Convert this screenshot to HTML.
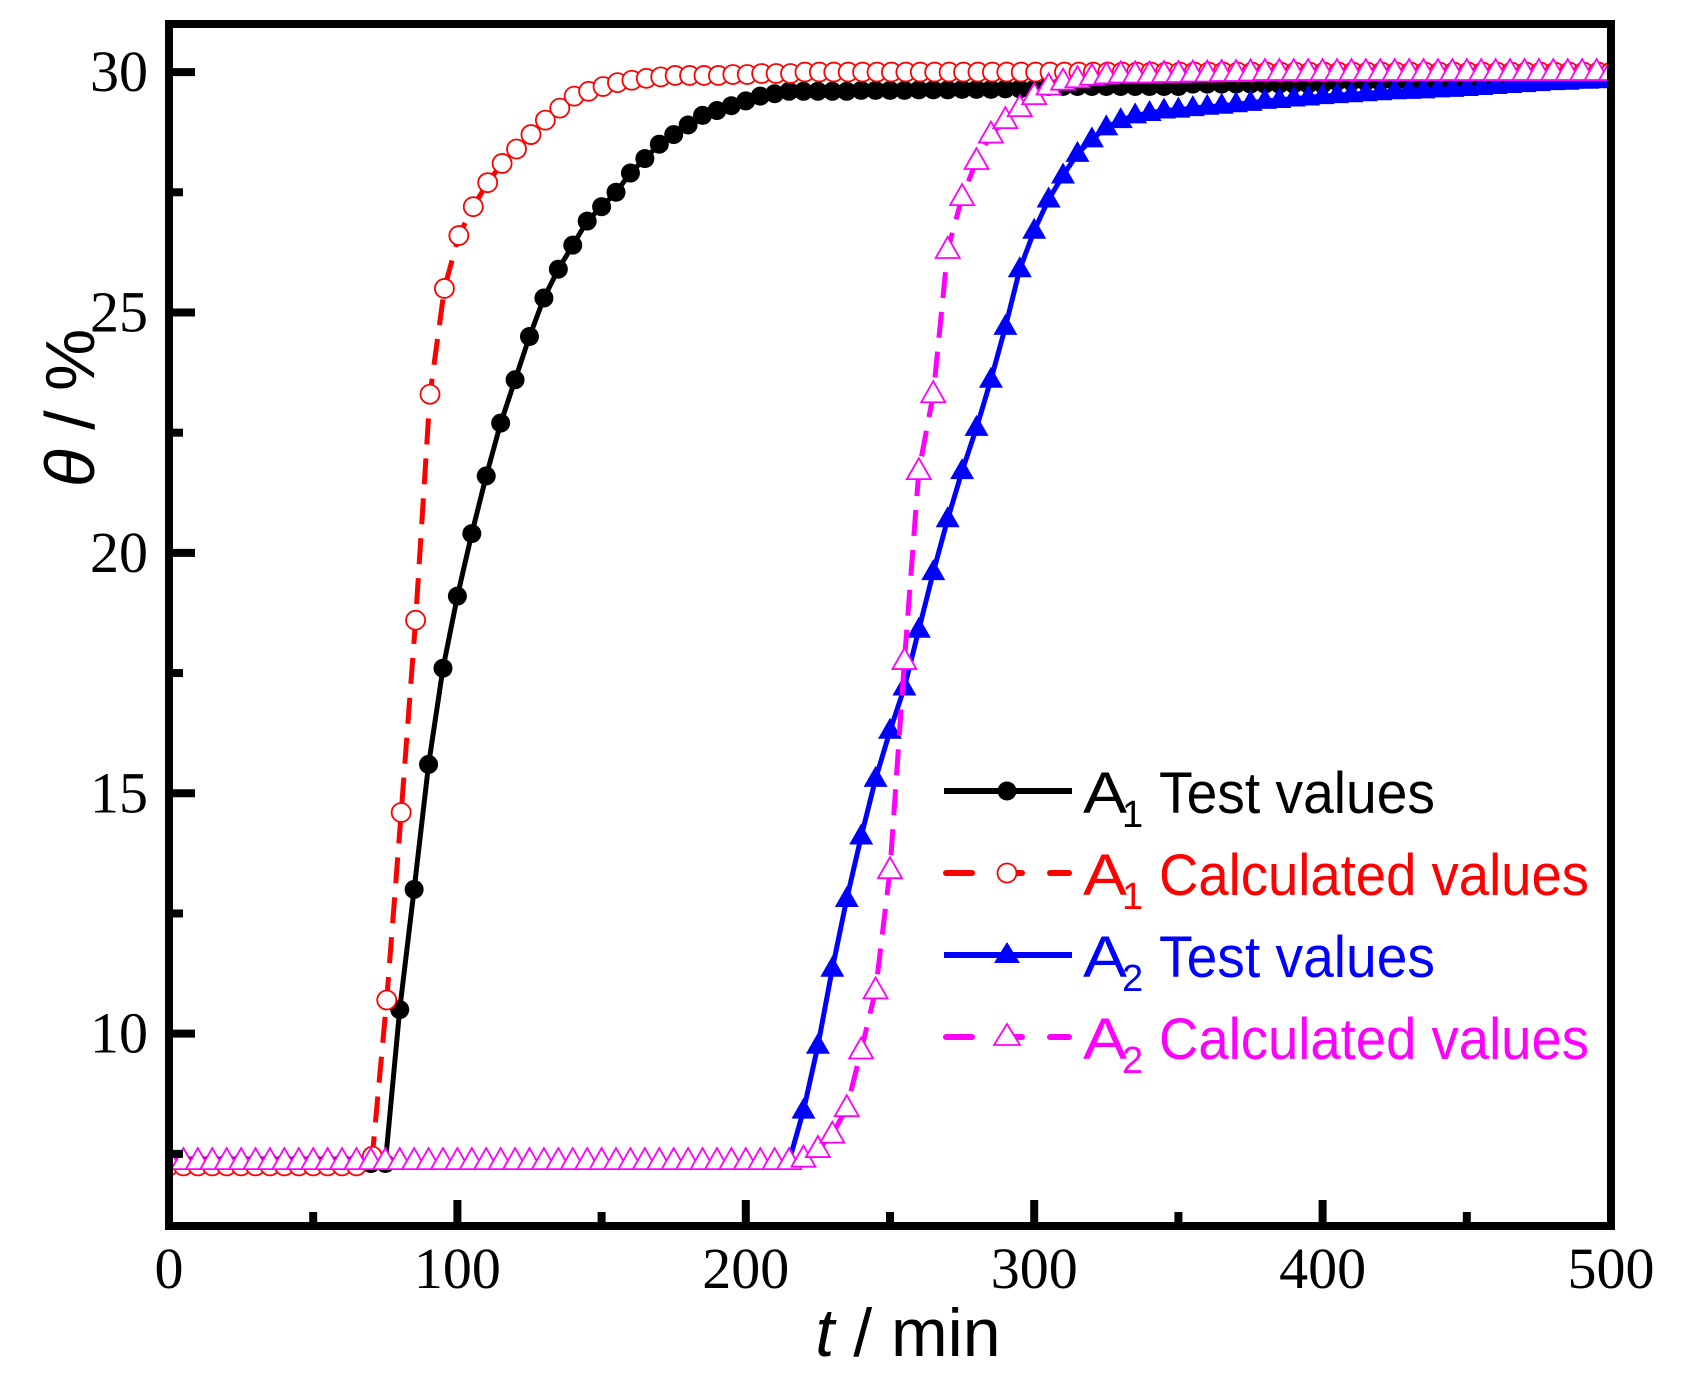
<!DOCTYPE html>
<html><head><meta charset="utf-8"><style>
html,body{margin:0;padding:0;background:#fff;}
svg{display:block;}
</style></head><body>
<svg id="chart" width="1689" height="1377" viewBox="0 0 1689 1377" xmlns="http://www.w3.org/2000/svg"></svg>
<script>
const tA1Test = [0,5,10,15,20,25,30,35,40,45,50,55,60,65,70,75,80,85,90,95,100,105,110,115,120,125,130,135,140,145,150,155,160,165,170,175,180,185,190,195,200,205,210,215,220,225,230,235,240,245,250,255,260,265,270,275,280,285,290,295,300,305,310,315,320,325,330,335,340,345,350,355,360,365,370,375,380,385,390,395,400,405,410,415,420,425,430,435,440,445,450,455,460,465,470,475,480,485,490,495,500];
const vA1Test = [7.3,7.3,7.3,7.3,7.3,7.3,7.3,7.3,7.3,7.3,7.3,7.3,7.3,7.3,7.3,7.3,10.5,13.0,15.6,17.6,19.1,20.4,21.6,22.7,23.6,24.5,25.3,25.9,26.4,26.9,27.2,27.5,27.9,28.2,28.5,28.7,28.9,29.1,29.2,29.3,29.4,29.5,29.55,29.6,29.6,29.6,29.6,29.6,29.62,29.62,29.62,29.62,29.63,29.63,29.63,29.64,29.64,29.64,29.65,29.65,29.65,29.7,29.7,29.7,29.7,29.7,29.7,29.7,29.7,29.7,29.7,29.75,29.75,29.75,29.75,29.75,29.75,29.75,29.75,29.75,29.75,29.8,29.8,29.8,29.8,29.8,29.8,29.8,29.8,29.8,29.8,29.85,29.85,29.85,29.85,29.85,29.85,29.85,29.85,29.85,29.85];
const tA1Calc = [0,5,10,15,20,25,30,35,40,45,50,55,60,65,70.5,75.5,80.5,85.5,90.5,95.5,100.5,105.5,110.5,115.5,120.5,125.5,130.5,135.5,140.5,145.5,150.5,155.5,160.5,165.5,170.5,175.5,180.5,185.5,190.5,195.5,200.5,205.5,210.5,215.5,220.5,225.5,230.5,235.5,240.5,245.5,250.5,255.5,260.5,265.5,270.5,275.5,280.5,285.5,290.5,295.5,300.5,305.5,310.5,315.5,320.5,325.5,330.5,335.5,340.5,345.5,350.5,355.5,360.5,365.5,370.5,375.5,380.5,385.5,390.5,395.5,400.5,405.5,410.5,415.5,420.5,425.5,430.5,435.5,440.5,445.5,450.5,455.5,460.5,465.5,470.5,475.5,480.5,485.5,490.5,495.5,500];
const vA1Calc = [7.25,7.25,7.25,7.25,7.25,7.25,7.25,7.25,7.25,7.25,7.25,7.25,7.25,7.25,7.45,10.7,14.6,18.6,23.3,25.5,26.6,27.2,27.7,28.1,28.4,28.7,29.0,29.25,29.5,29.6,29.7,29.78,29.83,29.87,29.9,29.93,29.93,29.93,29.93,29.95,29.95,29.97,29.97,29.97,30,30,30,30,30,30,30,30,30,30,30,30,30,30,30,30,30,30,30,30,30,30,30,30,30,30,30,30,30,30,30,30,30,30,30,30,30,30,30,30,30,30,30,30,30,30,30,30,30,30,30,30,30,30,30,30,30];
const tA2Test = [0,5,10,15,20,25,30,35,40,45,50,55,60,65,70,75,80,85,90,95,100,105,110,115,120,125,130,135,140,145,150,155,160,165,170,175,180,185,190,195,200,205,210,215,220,225,230,235,240,245,250,255,260,265,270,275,280,285,290,295,300,305,310,315,320,325,330,335,340,345,350,355,360,365,370,375,380,385,390,395,400,405,410,415,420,425,430,435,440,445,450,455,460,465,470,475,480,485,490,495,500];
const vA2Test = [7.35,7.35,7.35,7.35,7.35,7.35,7.35,7.35,7.35,7.35,7.35,7.35,7.35,7.35,7.35,7.35,7.35,7.35,7.35,7.35,7.35,7.35,7.35,7.35,7.35,7.35,7.35,7.35,7.35,7.35,7.35,7.35,7.35,7.35,7.35,7.35,7.35,7.35,7.35,7.35,7.35,7.35,7.35,7.35,8.4,9.75,11.35,12.8,14.1,15.3,16.3,17.2,18.4,19.6,20.7,21.7,22.6,23.6,24.7,25.9,26.7,27.35,27.85,28.3,28.6,28.85,29.0,29.1,29.15,29.2,29.22,29.25,29.28,29.3,29.33,29.36,29.4,29.42,29.45,29.47,29.5,29.52,29.54,29.56,29.58,29.6,29.61,29.62,29.64,29.65,29.67,29.69,29.71,29.73,29.75,29.77,29.79,29.8,29.82,29.83,29.85];
const tA2Calc = [0,5,10,15,20,25,30,35,40,45,50,55,60,65,70,75,80,85,90,95,100,105,110,115,120,125,130,135,140,145,150,155,160,165,170,175,180,185,190,195,200,205,210,215,220,225,230,235,240,245,250,255,260,265,270,275,280,285,290,295,300,305,310,315,320,325,330,335,340,345,350,355,360,365,370,375,380,385,390,395,400,405,410,415,420,425,430,435,440,445,450,455,460,465,470,475,480,485,490,495,500];
const vA2Calc = [7.35,7.35,7.35,7.35,7.35,7.35,7.35,7.35,7.35,7.35,7.35,7.35,7.35,7.35,7.35,7.35,7.35,7.35,7.35,7.35,7.35,7.35,7.35,7.35,7.35,7.35,7.35,7.35,7.35,7.35,7.35,7.35,7.35,7.35,7.35,7.35,7.35,7.35,7.35,7.35,7.35,7.35,7.35,7.35,7.4,7.6,7.9,8.45,9.65,10.9,13.4,17.75,21.7,23.3,26.3,27.4,28.15,28.7,29.0,29.25,29.5,29.7,29.8,29.85,29.9,29.93,29.95,29.95,29.95,29.96,29.96,29.97,29.97,29.98,29.98,29.99,30,30,30,30,30,30,30,30,30,30,30,30,30,30,30,30,30,30,30,30,30,30,30,30,30];
const xTicks = [0,100,200,300,400,500];
const xMinor = [50,150,250,350,450];
const yTicks = [10,15,20,25,30];
const yMinor = [7.5,12.5,17.5,22.5,27.5];

const X0=169, X1=1611, YT=24, YB=1226;
const xMin=0,xMax=500,yMin=6,yMax=31;
const sx = t => X0 + (t-xMin)/(xMax-xMin)*(X1-X0);
const sy = v => YB - (v-yMin)/(yMax-yMin)*(YB-YT);
const NS='http://www.w3.org/2000/svg';
const svg=document.getElementById('chart');
function mk(tag, attrs, parent){
  const e=document.createElementNS(NS,tag);
  for(const k in attrs) e.setAttribute(k,attrs[k]);
  (parent||svg).appendChild(e); return e;
}
const plot=mk('g',{});


const clip=mk('clipPath',{id:'cp'});
mk('rect',{x:X0,y:YT,width:X1-X0,height:YB-YT},clip);

function series(name,ts,vs,color,dash,marker,filled){
  const g=mk('g',{'clip-path':'url(#cp)'},plot);
  
  
  const pts=ts.map((t,i)=>sx(t).toFixed(1)+','+sy(vs[i]).toFixed(1)).join(' ');
  const ln=mk('polyline',{points:pts,fill:'none',stroke:color,'stroke-width':5,'stroke-dasharray':dash||'none','stroke-linejoin':'round'},g);
  
  
  ts.forEach((t,i)=>{
    const x=sx(t), y=sy(vs[i]);
    let m;
    if(marker==='circle') m=mk('circle',{cx:x,cy:y,r:9.5,fill:filled?color:'#fff','stroke':color,'stroke-width':filled?0:1.8},g);
    else m=mk('polygon',{points:`${x},${y-13} ${x+12},${y+8} ${x-12},${y+8}`,fill:filled?color:'#fff',stroke:color,'stroke-width':filled?0:1.8},g);
    
    
  });
}
series('a1-test-series',tA1Test,vA1Test,'#000000',null,'circle',true);
series('a1-calculated-series',tA1Calc,vA1Calc,'#ff0000','26 14','circle',false);
series('a2-test-series',tA2Test,vA2Test,'#0000ff',null,'tri',true);
series('a2-calculated-series',tA2Calc,vA2Calc,'#ff00ff','26 14','tri',false);

const frame=mk('rect',{x:X0,y:YT,width:X1-X0,height:YB-YT,fill:'none',stroke:'#000','stroke-width':8});


xTicks.forEach(t=>{
  const l=mk('line',{x1:sx(t),x2:sx(t),y1:YB,y2:YB-26,stroke:'#000','stroke-width':8});
  
  
  const tx=mk('text',{x:sx(t),y:1288,'text-anchor':'middle','font-family':'Liberation Serif, serif','font-size':58,fill:'#000'});
  tx.textContent=t;
  
  
});
xMinor.forEach(t=>{
  const l=mk('line',{x1:sx(t),x2:sx(t),y1:YB,y2:YB-14,stroke:'#000','stroke-width':8});
  
  
});
yTicks.forEach(v=>{
  const l=mk('line',{x1:X0,x2:X0+26,y1:sy(v),y2:sy(v),stroke:'#000','stroke-width':8});
  
  
  const tx=mk('text',{x:148,y:sy(v)+19,'text-anchor':'end','font-family':'Liberation Serif, serif','font-size':58,fill:'#000'});
  tx.textContent=v;
  
  
});
yMinor.forEach(v=>{
  const l=mk('line',{x1:X0,x2:X0+14,y1:sy(v),y2:sy(v),stroke:'#000','stroke-width':8});
  
  
});
const xt=mk('text',{x:908,y:1356,'text-anchor':'middle','font-family':'Liberation Sans, sans-serif','font-size':68,fill:'#000'});
xt.innerHTML='<tspan font-style="italic">t</tspan> / min';


const yt=mk('text',{x:0,y:0,'text-anchor':'middle','font-family':'Liberation Sans, sans-serif','font-size':70,fill:'#000',transform:'translate(94,408) rotate(-90)'});
yt.innerHTML='<tspan font-style="italic">θ</tspan> / %';



const legendItems=[
 {label:'Test values',sub:'1',color:'#000',dash:false,marker:'circle',filled:true,len:276},
 {label:'Calculated values',sub:'1',color:'#ff0000',dash:true,marker:'circle',filled:false,len:430},
 {label:'Test values',sub:'2',color:'#0000ff',dash:false,marker:'tri',filled:true,len:276},
 {label:'Calculated values',sub:'2',color:'#ff00ff',dash:true,marker:'tri',filled:false,len:430}
];
const lg=mk('g',{transform:'translate(-8,-9)'});


legendItems.forEach((it,i)=>{
  const y=800+i*82;
  const g=mk('g',{},lg);
  
  
  if(it.dash){
    mk('line',{x1:954,x2:980,y1:y,y2:y,stroke:it.color,'stroke-width':6,'stroke-linecap':'round'},g);
    mk('line',{x1:1018,x2:1030,y1:y,y2:y,stroke:it.color,'stroke-width':6,'stroke-linecap':'round'},g);
    mk('line',{x1:1058,x2:1077,y1:y,y2:y,stroke:it.color,'stroke-width':6,'stroke-linecap':'round'},g);
  } else {
    mk('line',{x1:952,x2:1080,y1:y,y2:y,stroke:it.color,'stroke-width':6},g);
  }
  if(it.marker==='circle') mk('circle',{cx:1015,cy:y,r:9.5,fill:it.filled?it.color:'#fff',stroke:it.color,'stroke-width':it.filled?0:1.8},g);
  else mk('polygon',{points:`1015,${y-13} 1028,${y+8} 1002,${y+8}`,fill:it.filled?it.color:'#fff',stroke:it.color,'stroke-width':it.filled?0:1.8},g);
  const t=mk('text',{x:1091,y:y+22,'font-family':'Liberation Sans, sans-serif','font-size':58,fill:it.color,textLength:44,lengthAdjust:'spacingAndGlyphs'},g);
  t.textContent='A';
  const s=mk('text',{x:1130,y:y+36,'font-family':'Liberation Sans, sans-serif','font-size':38,fill:it.color},g);
  s.textContent=it.sub;
  const t2=mk('text',{x:1167,y:y+22,'font-family':'Liberation Sans, sans-serif','font-size':58,fill:it.color,textLength:it.len,lengthAdjust:'spacingAndGlyphs'},g);
  t2.textContent=it.label;
});
</script>
</body></html>
